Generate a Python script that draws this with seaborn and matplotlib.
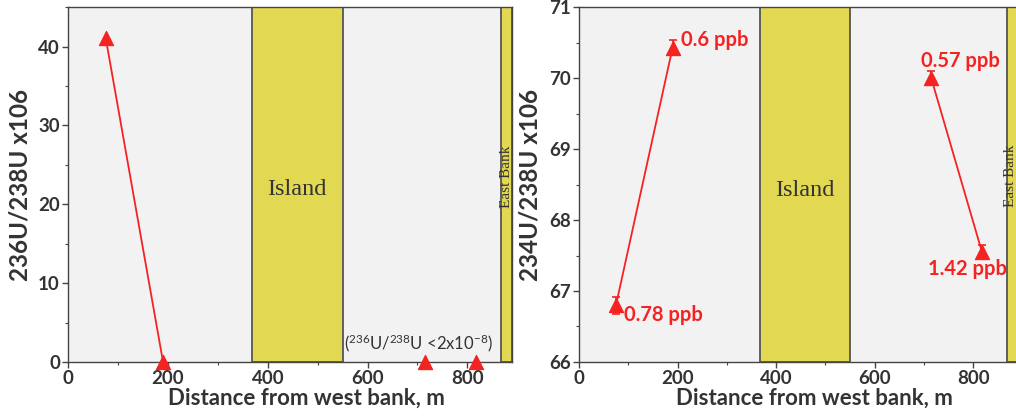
import numpy as np
import pandas as pd
import matplotlib
matplotlib.use("Agg")
import matplotlib.pyplot as plt
import seaborn as sns
from matplotlib.ticker import MultipleLocator

# ---- data ----
distance = [75, 190, 715, 818]
u236_ratio = [41.1, 0.0, 0.0, 0.0]
u236_segment = ["a", "a", "b", "c"]
u234_ratio = [66.80, 70.43, 70.00, 67.55]
u234_err = [0.12, 0.10, 0.10, 0.10]
u234_segment = ["a", "a", "b", "b"]
conc_labels = ["0.78 ppb", "0.6 ppb", "0.57 ppb", "1.42 ppb"]
label_pos_x = [91, 207, 694, 709]
label_pos_y = [66.66, 70.54, 70.24, 67.31]
island = (368, 550)
east_bank = (868, 890)
x_ticks = [0, 200, 400, 600, 800]

sns.set_theme(style="ticks")
plt.rcParams["font.family"] = ["Lato", "DejaVu Sans"]
plt.rcParams["mathtext.default"] = "regular"

RED = "#f52222"
TXT = "#333333"
GREY_BG = "#f2f2f2"
YEL = "#e3d852"
EDGE = "#555555"

df1 = pd.DataFrame({"x": distance, "y": u236_ratio, "seg": u236_segment})
df2 = pd.DataFrame({"x": distance, "y": u234_ratio, "seg": u234_segment, "err": u234_err})

fig = plt.figure(figsize=(10.16, 4.18), dpi=100)
ax1 = fig.add_axes([0.0672, 0.134, 0.437, 0.849])
ax2 = fig.add_axes([0.5699, 0.134, 0.4315, 0.849])

for ax in (ax1, ax2):
    ax.set_facecolor(GREY_BG)
    ax.axvspan(*island, facecolor=YEL, edgecolor=EDGE, lw=1.3, zorder=0.5)
    ax.axvspan(*east_bank, facecolor=YEL, edgecolor=EDGE, lw=1.3, zorder=0.5)
    ax.set_xlim(0, 890)
    ax.set_xticks(x_ticks)
    ax.xaxis.set_minor_locator(MultipleLocator(100))
    for s in ax.spines.values():
        s.set_color("#444444")
        s.set_linewidth(1.0)
    ax.tick_params(which="major", direction="out", length=4, width=1, color="#444444",
                   labelsize=13.5, labelcolor=TXT, pad=2)
    ax.tick_params(which="minor", direction="out", length=2.5, width=0.8, color="#444444")

# ---- left panel ----
sns.lineplot(data=df1, x="x", y="y", units="seg", estimator=None, color=RED,
             lw=1.3, ax=ax1, zorder=3, legend=False)
sns.scatterplot(data=df1, x="x", y="y", marker="^", color=RED, s=105,
                edgecolor=RED, ax=ax1, zorder=4, clip_on=False, legend=False)
ax1.set_ylim(0, 45)
ax1.yaxis.set_major_locator(MultipleLocator(10))
ax1.yaxis.set_minor_locator(MultipleLocator(5))
ax1.set_ylabel("236U/238U x106", fontsize=17.5, fontweight="bold", color=TXT, labelpad=5)
ax1.text(sum(island) / 2, 21.9, "Island", family="Liberation Serif", fontsize=17.5,
         color=TXT, ha="center", va="center")
ax1.text(sum(east_bank) / 2, 23.5, "East Bank", family="Liberation Serif", fontsize=11,
         color=TXT, ha="center", va="center", rotation=90)
ax1.text(703, 2.4, r"($^{236}$U/$^{238}$U <2x10$^{-8}$)", fontsize=12,
         color=TXT, ha="center", va="center")

# ---- right panel ----
ax2.errorbar(df2["x"], df2["y"], yerr=df2["err"], fmt="none", ecolor=RED,
             elinewidth=1.2, capsize=3, capthick=1.2, zorder=3)
sns.lineplot(data=df2, x="x", y="y", units="seg", estimator=None, color=RED,
             lw=1.3, ax=ax2, zorder=3, legend=False)
sns.scatterplot(data=df2, x="x", y="y", marker="^", color=RED, s=105,
                edgecolor=RED, ax=ax2, zorder=4, legend=False)
ax2.set_ylim(66, 71)
ax2.yaxis.set_major_locator(MultipleLocator(1))
ax2.yaxis.set_minor_locator(MultipleLocator(0.5))
ax2.set_ylabel("234U/238U x106", fontsize=17.5, fontweight="bold", color=TXT, labelpad=5)
ax2.text(sum(island) / 2, 68.41, "Island", family="Liberation Serif", fontsize=17.5,
         color=TXT, ha="center", va="center")
ax2.text(876, 68.62, "East Bank", family="Liberation Serif", fontsize=11,
         color=TXT, ha="center", va="center", rotation=90)
for lx, ly, t in zip(label_pos_x, label_pos_y, conc_labels):
    ax2.text(lx, ly, t, fontsize=14.5, fontweight="bold", color=RED, ha="left", va="center")

for ax in (ax1, ax2):
    ax.set_xlabel("Distance from west bank, m", fontsize=16, fontweight="bold",
                  color=TXT, labelpad=0)
    ax.xaxis.label.set_x(0.536)
    for lab in ax.get_xticklabels() + ax.get_yticklabels():
        lab.set_fontweight("bold")

fig.savefig("out.png", dpi=100)
